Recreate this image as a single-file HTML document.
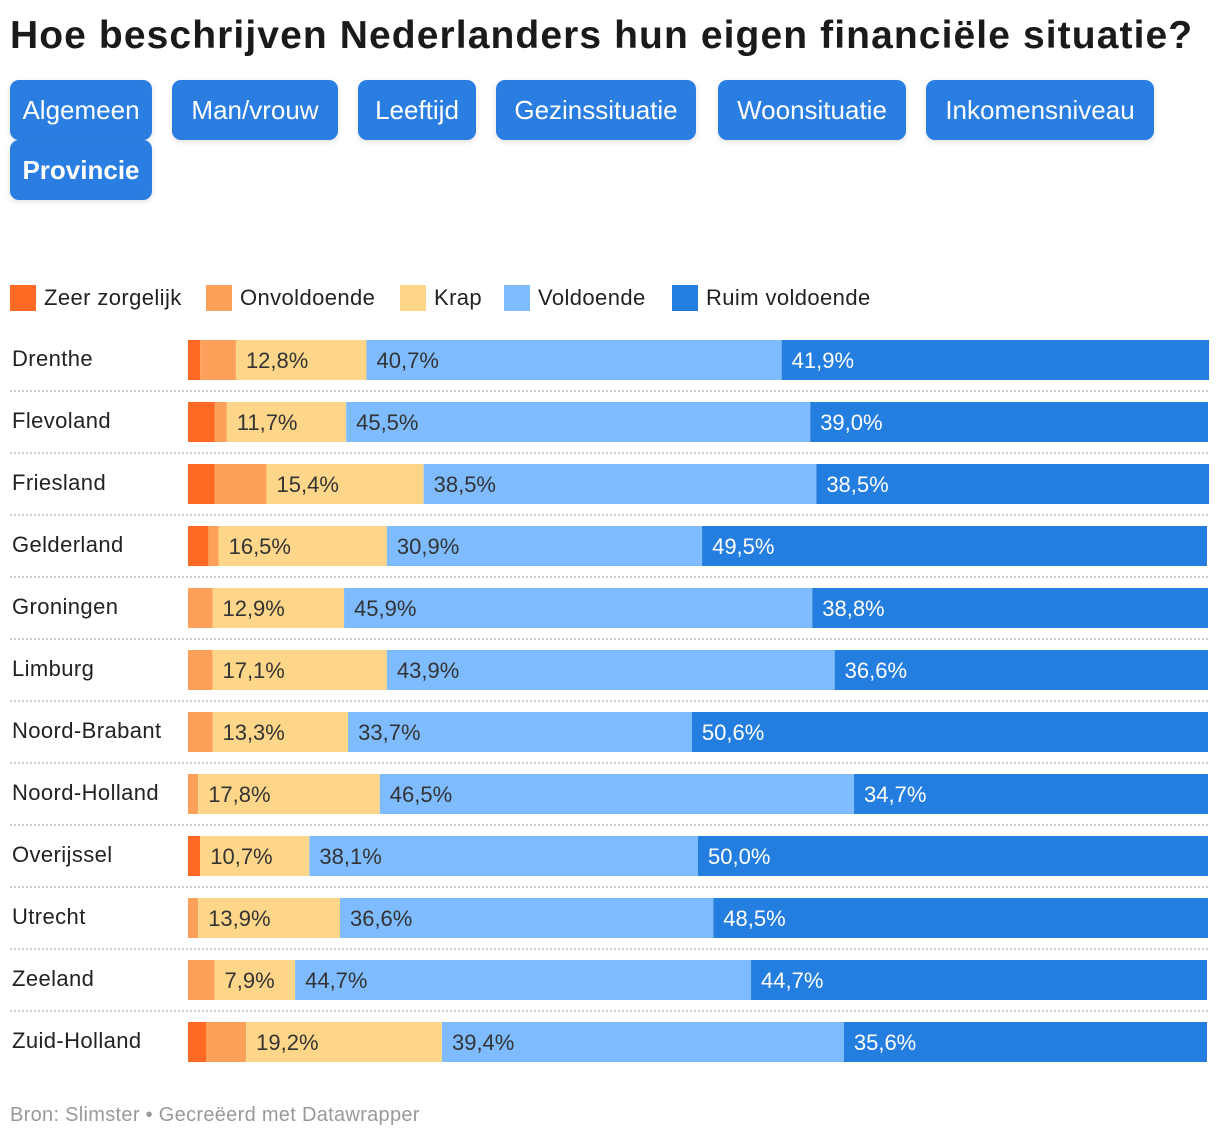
<!DOCTYPE html>
<html><head><meta charset="utf-8">
<style>
body{margin:0;width:1220px;height:1138px;background:#fff;font-family:"Liberation Sans",sans-serif;position:relative;overflow:hidden;color:#222}
h1{position:absolute;left:10px;top:14px;margin:0;font-size:39px;font-weight:bold;color:#1a1a1a;letter-spacing:1.1px;white-space:nowrap}
.btn{position:absolute;height:60px;background:#2a7de1;color:#fff;border-radius:9px;font-size:26px;line-height:60px;text-align:center;box-shadow:0 2px 6px rgba(0,0,0,0.12)}
.leg{position:absolute;top:285px;height:26px;font-size:22px;line-height:26px;color:#222;letter-spacing:0.4px}
.leg span{display:inline-block;width:26px;height:26px;vertical-align:top;margin-right:8px}
#foot{position:absolute;left:10px;top:1104px;font-size:20px;color:#999;letter-spacing:0.3px}
</style></head><body>
<h1>Hoe beschrijven Nederlanders hun eigen financiële situatie?</h1>
<div class="btn" style="left:10px;top:80px;width:142px">Algemeen</div>
<div class="btn" style="left:172px;top:80px;width:166px">Man/vrouw</div>
<div class="btn" style="left:358px;top:80px;width:118px">Leeftijd</div>
<div class="btn" style="left:496px;top:80px;width:200px">Gezinssituatie</div>
<div class="btn" style="left:718px;top:80px;width:188px">Woonsituatie</div>
<div class="btn" style="left:926px;top:80px;width:228px">Inkomensniveau</div>
<div class="btn" style="left:10px;top:140px;width:142px;font-weight:bold">Provincie</div>
<div class="leg" style="left:10px"><span style="background:#fe6a24"></span>Zeer zorgelijk</div>
<div class="leg" style="left:206px"><span style="background:#fda05a"></span>Onvoldoende</div>
<div class="leg" style="left:400px"><span style="background:#fed68a"></span>Krap</div>
<div class="leg" style="left:504px"><span style="background:#7fbcff"></span>Voldoende</div>
<div class="leg" style="left:672px"><span style="background:#247ee0"></span>Ruim voldoende</div>
<svg id="chart" width="1220" height="1138" style="position:absolute;left:0;top:0"></svg>
<div id="foot">Bron: Slimster • Gecreëerd met Datawrapper</div>
<script>
const provinces=["Drenthe","Flevoland","Friesland","Gelderland","Groningen","Limburg","Noord-Brabant","Noord-Holland","Overijssel","Utrecht","Zeeland","Zuid-Holland"];
const zeerZorgelijk=[1.2,2.6,2.6,2.0,0,0,0,0,1.2,0,0,1.8];
const onvoldoende=[3.5,1.2,5.1,1.0,2.4,2.4,2.4,1.0,0,1.0,2.6,3.9];
const krap=[12.8,11.7,15.4,16.5,12.9,17.1,13.3,17.8,10.7,13.9,7.9,19.2];
const voldoende=[40.7,45.5,38.5,30.9,45.9,43.9,33.7,46.5,38.1,36.6,44.7,39.4];
const ruimVoldoende=[41.9,39.0,38.5,49.5,38.8,36.6,50.6,34.7,50.0,48.5,44.7,35.6];
const seriesNames=["zeer-zorgelijk","onvoldoende","krap","voldoende","ruim-voldoende"];
const series=[zeerZorgelijk,onvoldoende,krap,voldoende,ruimVoldoende];
const colors=["#fe6a24","#fda05a","#fed68a","#7fbcff","#247ee0"];
const textColors=["#222","#222","#333","#333","#fff"];
const NS="http://www.w3.org/2000/svg";
const svg=document.getElementById('chart');
const x0=188,plotW=1020;
const xs=v=>v/100*plotW;
const rowY=i=>340+i*62;
const barH=40;
provinces.forEach((p,i)=>{
  const y=rowY(i);
  const t=document.createElementNS(NS,'text');
  
  
  t.setAttribute('x',12);t.setAttribute('y',y+26);
  t.setAttribute('font-size','22');t.setAttribute('fill','#222');
  t.setAttribute('letter-spacing','0.4');
  t.textContent=p;svg.appendChild(t);
  let acc=0;
  series.forEach((s,k)=>{
    const v=s[i];
    if(v>0){
      const r=document.createElementNS(NS,'rect');
      
      
      r.setAttribute('x',x0+xs(acc));r.setAttribute('y',y);
      r.setAttribute('width',xs(v));r.setAttribute('height',barH);
      r.setAttribute('fill',colors[k]);svg.appendChild(r);
      if(v>=7){
        const l=document.createElementNS(NS,'text');
        
        
        l.setAttribute('x',x0+xs(acc)+10);l.setAttribute('y',y+28);
        l.setAttribute('font-size','22');l.setAttribute('fill',textColors[k]);
        l.textContent=v.toFixed(1).replace('.',',')+'%';svg.appendChild(l);
      }
    }
    acc+=v;
  });
  if(i<provinces.length-1){
    const ln=document.createElementNS(NS,'line');
    
    
    ln.setAttribute('x1',10);ln.setAttribute('x2',1208);
    ln.setAttribute('y1',y+51);ln.setAttribute('y2',y+51);
    ln.setAttribute('stroke','#ccc');ln.setAttribute('stroke-width','2');
    ln.setAttribute('stroke-dasharray','2,2');svg.appendChild(ln);
  }
});
</script>
</body></html>
